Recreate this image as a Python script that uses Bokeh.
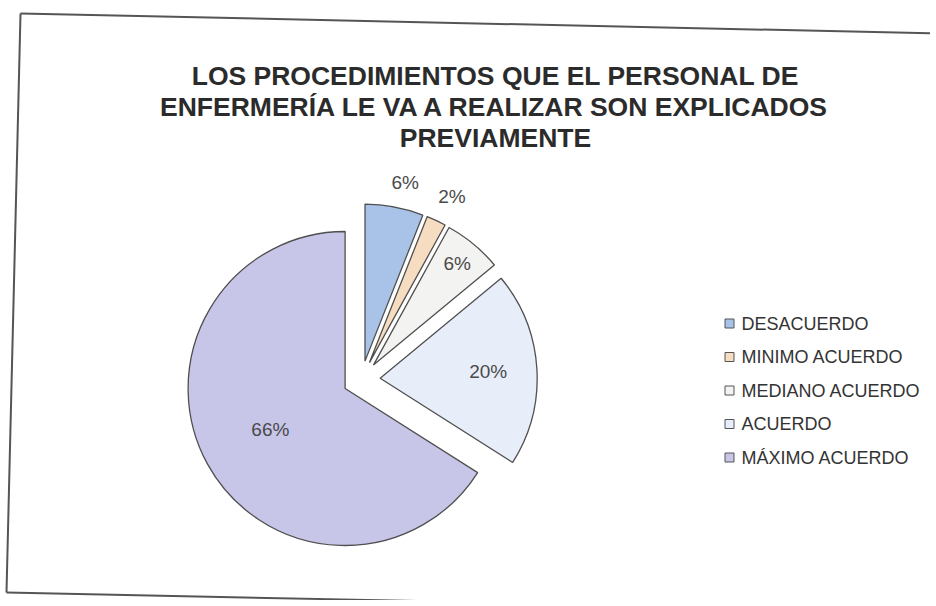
import numpy as np
from bokeh.plotting import figure
from bokeh.models import ColumnDataSource, Range1d
from bokeh.embed import file_html
from bokeh.resources import INLINE
from bokeh.core.properties import value

# ---- data ----
title_lines = ["LOS PROCEDIMIENTOS QUE EL PERSONAL DE",
               "ENFERMERÍA LE VA A REALIZAR SON EXPLICADOS",
               "PREVIAMENTE"]
categories = ["DESACUERDO", "MINIMO ACUERDO", "MEDIANO ACUERDO", "ACUERDO", "MÁXIMO ACUERDO"]
percentages = [6, 2, 6, 20, 66]
colors = ["#a9c2e8", "#f6dcc0", "#f3f3f1", "#e8eef9", "#c7c6e9"]

# ---- layout ----
W, H = 930, 600
def px(X): return X
def py(Y): return H - Y

cx, cy = px(361), py(379)
R = 157
explode = 18.7
label_r = [202, 204, 150, 127, 104]
label_shift = [0.03, 0.02, 0.0, 0.0, 0.0]   # small angular nudges (radians)
FONT = value("Liberation Sans")

p = figure(width=W, height=H, output_backend="svg", toolbar_location=None,
           x_range=Range1d(0, W), y_range=Range1d(0, H), min_border=0)
p.axis.visible = False
p.grid.visible = False
p.outline_line_color = None
p.background_fill_color = "white"
p.border_fill_color = "white"

# scanned frame
p.line([px(20), px(940)], [py(13), py(33)], line_color="#555555", line_width=2)
p.line([px(20), px(6)], [py(13), py(592)], line_color="#555555", line_width=2)
p.line([px(6), px(537), px(940)], [py(592), py(603), py(610)], line_color="#555555", line_width=2)

fr = np.array(percentages, dtype=float) / sum(percentages)
ends = np.cumsum(fr) * 2 * np.pi
starts = ends - fr * 2 * np.pi
mids = (starts + ends) / 2

src = ColumnDataSource(dict(
    x=cx + explode * np.sin(mids),
    y=cy + explode * np.cos(mids),
    sa=np.pi / 2 - starts,
    ea=np.pi / 2 - ends,
    color=colors,
    cat=categories,
))
p.wedge(x="x", y="y", radius=R, start_angle="sa", end_angle="ea", direction="clock",
        fill_color="color", line_color="#4f4f4f", line_width=1.3, source=src)

la = mids + np.array(label_shift)
lab = ColumnDataSource(dict(
    x=cx + np.array(label_r) * np.sin(la),
    y=cy + np.array(label_r) * np.cos(la),
    t=[f"{v}%" for v in percentages],
))
p.text(x="x", y="y", text="t", source=lab, text_align="center", text_baseline="middle",
       text_font=FONT, text_font_size="19px", text_color="#4a4a4a")

# title
p.text(x=[px(495)] * 3, y=[py(75), py(106), py(137)], text=title_lines,
       text_align="center", text_baseline="middle", text_font=FONT,
       text_font_size="26.5px", text_font_style="bold", text_color="#2b2b2b")

# legend
ly = [py(323 + i * 33.5) for i in range(len(categories))]
p.scatter(x=[px(729)] * len(categories), y=ly, marker="square", size=9,
          fill_color=colors, line_color="#555555", line_width=1)
p.text(x=[px(741)] * len(categories), y=ly, text=categories, text_align="left",
       text_baseline="middle", text_font=FONT, text_font_size="18px", text_color="#333333")

open("out.html", "w").write(file_html(p, INLINE))
